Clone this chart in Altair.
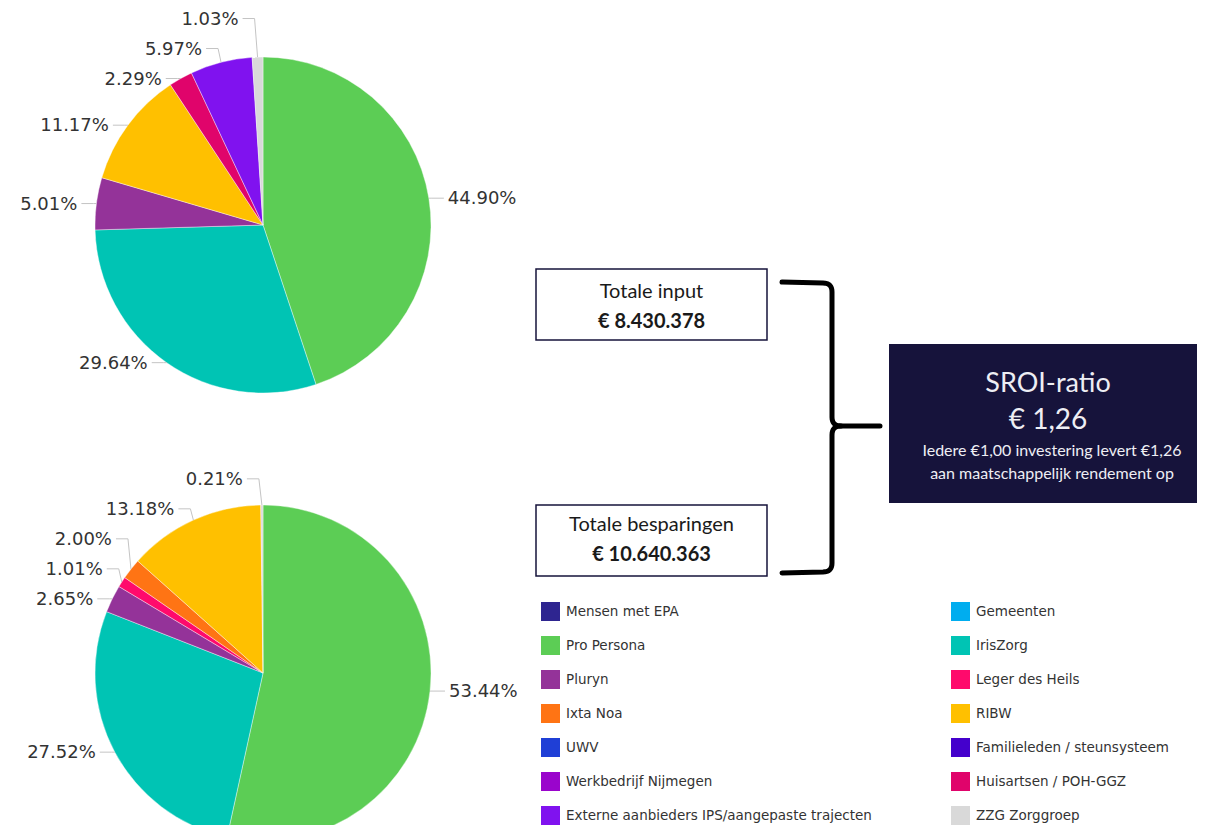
import math
import altair as alt
import pandas as pd

# ---------------- data ----------------
# legend is filled column by column: left column first, then right column
categories = [
    "Mensen met EPA", "Pro Persona", "Pluryn", "Ixta Noa", "UWV",
    "Werkbedrijf Nijmegen", "Externe aanbieders IPS/aangepaste trajecten",
    "Gemeenten", "IrisZorg", "Leger des Heils", "RIBW",
    "Familieleden / steunsysteem", "Huisartsen / POH-GGZ", "ZZG Zorggroep",
]
colors = [
    "#2e2590", "#5ccd55", "#943399", "#ff7414", "#1f3fd6",
    "#9a05cc", "#8012ef",
    "#00adef", "#00c4b4", "#ff0a6c", "#ffc000",
    "#4400cc", "#e0046b", "#d9d9d9",
]

input_names = ["Pro Persona", "IrisZorg", "Pluryn", "RIBW",
               "Huisartsen / POH-GGZ",
               "Externe aanbieders IPS/aangepaste trajecten", "ZZG Zorggroep"]
input_pct = [44.90, 29.64, 5.01, 11.17, 2.29, 5.97, 1.03]

savings_names = ["Pro Persona", "IrisZorg", "Pluryn", "Leger des Heils",
                 "Ixta Noa", "RIBW", "ZZG Zorggroep"]
savings_pct = [53.44, 27.52, 2.65, 1.01, 2.00, 13.18, 0.21]

input_title = "Totale input"
input_total = "€ 8.430.378"
savings_title = "Totale besparingen"
savings_total = "€ 10.640.363"
ratio_title = "SROI-ratio"
ratio_value = "€ 1,26"
ratio_note = ["Iedere €1,00 investering levert €1,26",
              "aan maatschappelijk rendement op"]

# ---------------- layout (page pixels, minus 8px margin) ----------------
M = 8
W, H = 1189, 817
CX = 263
CY_TOP, CY_BOT = 225, 673
R = 168
LABEL_GAP = 30
LABEL_FONT = 18

color_enc = alt.Color(
    "name:N",
    scale=alt.Scale(domain=categories, range=colors),
    legend=alt.Legend(
        title=None, orient="none", legendX=541 - M, legendY=602 - M,
        columns=2, columnPadding=79, rowPadding=15, padding=0,
        symbolType="square", symbolSize=361, symbolStrokeWidth=0,
        symbolOpacity=1, labelFont="DejaVu Sans", labelFontSize=13.5,
        labelColor="#333333", labelLimit=500, labelOffset=6,
    ),
)


def pie_parts(names, pcts, cy):
    df = pd.DataFrame({"name": names, "pct": pcts, "idx": range(len(names))})
    arc = alt.Chart(df).mark_arc(outerRadius=R, stroke="white",
                                 strokeWidth=0.4).encode(
        theta=alt.Theta("pct:Q", stack=True),
        order=alt.Order("idx:Q"),
        color=color_enc,
        x=alt.value(CX - M),
        y=alt.value(cy - M),
    )
    # label anchor positions derived from the slice angles
    total = sum(pcts)
    cum = 0.0
    items = []
    for i, p in enumerate(pcts):
        a = math.radians((cum + p / 2) / total * 360)
        cum += p
        ex = CX + R * math.sin(a)
        ey = cy - R * math.cos(a)
        side = 1 if math.sin(a) > 0 else -1
        items.append({"i": i, "ex": ex, "ey": ey, "side": side,
                      "text": f"{p:.2f}%"})
    # distribute labels on each side so they keep a minimum gap
    for s in (-1, 1):
        group = sorted([it for it in items if it["side"] == s],
                       key=lambda d: -d["ey"])
        prev = None
        for it in group:
            ly = it["ey"] if prev is None else min(it["ey"], prev - LABEL_GAP)
            it["ly"] = ly
            prev = ly
    lines, labels = [], []
    for it in items:
        s = it["side"]
        pts = [(it["ex"], it["ey"]),
               (it["ex"] + s * 3, it["ly"]),
               (it["ex"] + s * 15, it["ly"])]
        for k, (px, py) in enumerate(pts):
            lines.append({"id": it["i"], "k": k, "px": px - M, "py": py - M})
        labels.append({"px": it["ex"] + s * 19 - M, "py": it["ly"] - M + 1,
                       "text": it["text"], "side": s})
    ldf = pd.DataFrame(lines)
    tdf = pd.DataFrame(labels)
    leader = alt.Chart(ldf).mark_line(color="#c4c4c4", strokeWidth=1).encode(
        x=alt.X("px:Q", scale=None, axis=None),
        y=alt.Y("py:Q", scale=None, axis=None),
        detail="id:N", order="k:Q")
    txt = []
    for s, al in ((-1, "right"), (1, "left")):
        txt.append(alt.Chart(tdf).mark_text(
            font="DejaVu Sans", fontSize=LABEL_FONT, color="#333333",
            baseline="middle", align=al).encode(
            x=alt.X("px:Q", scale=None, axis=None),
            y=alt.Y("py:Q", scale=None, axis=None),
            text="text:N").transform_filter(f"datum.side == {s}"))
    return [arc, leader] + txt


one = pd.DataFrame({"_": [0]})


def box(x0, x1, y0, y1, fill, stroke=None):
    kw = dict(fill=fill)
    if stroke:
        kw.update(stroke=stroke, strokeWidth=1.5)
    return alt.Chart(one).mark_rect(**kw).encode(
        x=alt.value(x0 - M), x2=alt.value(x1 - M),
        y=alt.value(y0 - M), y2=alt.value(y1 - M))


def label(text, x, y, size, color="#1a1a1a", weight="normal", font="Lato"):
    return alt.Chart(one).mark_text(
        text=text, font=font, fontSize=size, fontWeight=weight, color=color,
        align="center", baseline="middle").encode(
        x=alt.value(x - M), y=alt.value(y - M))


def bez(p0, p1, p2, n=8):
    out = []
    for j in range(n + 1):
        t = j / n
        out.append(((1 - t) ** 2 * p0[0] + 2 * (1 - t) * t * p1[0] + t ** 2 * p2[0],
                    (1 - t) ** 2 * p0[1] + 2 * (1 - t) * t * p1[1] + t ** 2 * p2[1]))
    return out


# curly brace between the two totals and the ratio box
BX0, BX, TIP, BTOP, BMID, BBOT, RC = 782, 832, 880, 282, 426, 572, 9
upper = [(BX0, BTOP)] + bez((BX - RC, BTOP + 1), (BX, BTOP + 1), (BX, BTOP + RC + 1)) \
    + bez((BX, BMID - RC), (BX, BMID), (BX + RC, BMID)) + [(TIP, BMID)]
lower = bez((BX + RC, BMID), (BX, BMID), (BX, BMID + RC)) \
    + bez((BX, BBOT - RC), (BX, BBOT), (BX - RC, BBOT)) + [(BX0, BBOT + 1)]
brace_rows = []
for pid, pts in enumerate([upper, lower]):
    for k, (px, py) in enumerate(pts):
        brace_rows.append({"id": pid, "k": k, "px": px - M, "py": py - M})
brace = alt.Chart(pd.DataFrame(brace_rows)).mark_line(
    color="black", strokeWidth=5, strokeCap="round", strokeJoin="round").encode(
    x=alt.X("px:Q", scale=None, axis=None),
    y=alt.Y("py:Q", scale=None, axis=None),
    detail="id:N", order="k:Q")

NAVY = "#16133b"
TXT = "#eeeef4"
layers = []
layers += pie_parts(input_names, input_pct, CY_TOP)
layers += pie_parts(savings_names, savings_pct, CY_BOT)
layers += [
    box(536, 767, 269, 340, "white", NAVY),
    label(input_title, 651.5, 292, 20),
    label(input_total, 651.5, 322, 20, weight="bold"),
    box(536, 767, 505, 576, "white", NAVY),
    label(savings_title, 651.5, 525, 20),
    label(savings_total, 651.5, 555, 20, weight="bold"),
    brace,
    box(889, 1215, 344, 503, NAVY),
    label(ratio_title, 1048, 384, 27, color=TXT),
    label(ratio_value, 1048, 421, 28, color=TXT),
    label(ratio_note[0], 1052, 451, 16, color=TXT),
    label(ratio_note[1], 1052, 474, 16, color=TXT),
]

chart = alt.layer(*layers).resolve_scale(theta="independent").properties(
    width=W, height=H, padding=0,
    autosize=alt.AutoSizeParams(type="none"),
    background="white",
).configure_view(stroke=None)

chart.save("out.html", embed_options={"renderer": "svg", "actions": False})
